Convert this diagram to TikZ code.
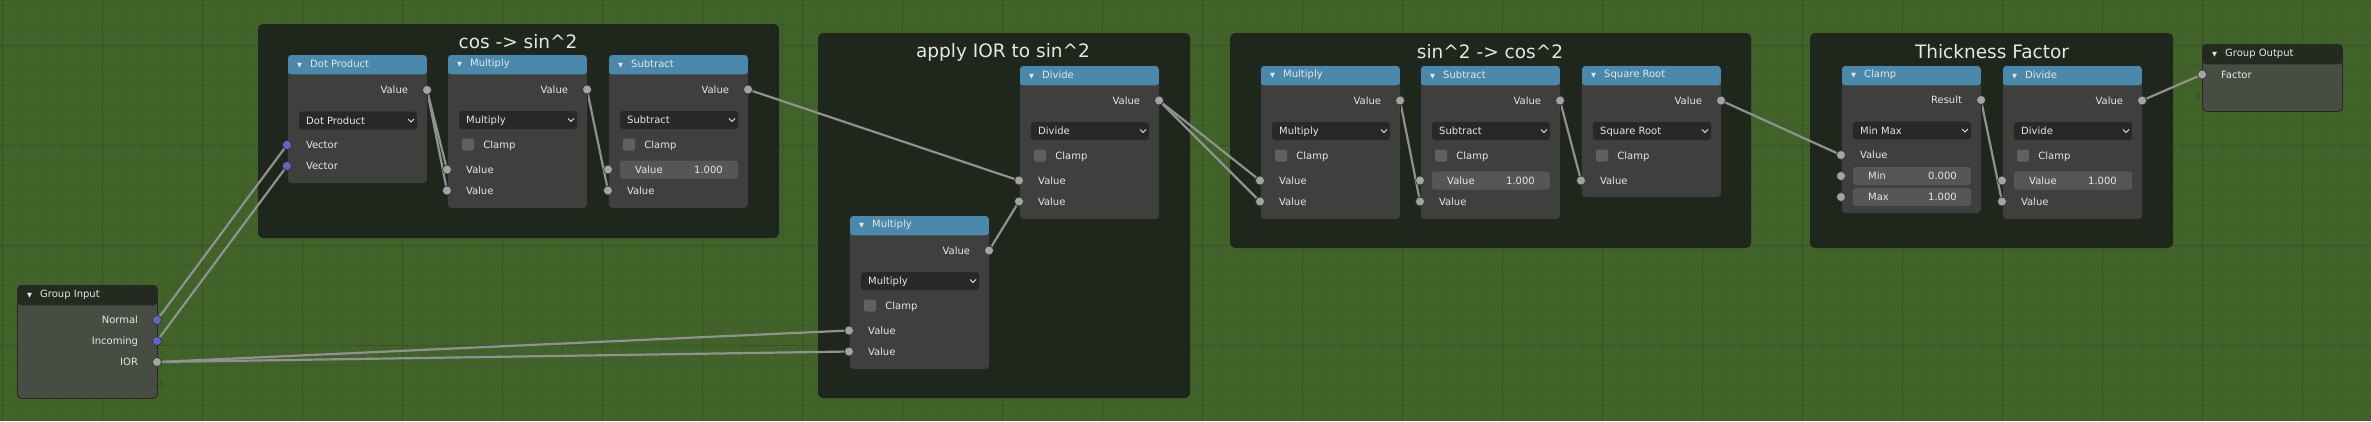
\documentclass[tikz,border=0pt]{standalone}
\usepackage{fontspec}
\setmainfont{DejaVu Sans}
\usetikzlibrary{positioning}
\definecolor{bggreen}{RGB}{65,98,41}
\definecolor{gridmin}{RGB}{60,92,37}
\definecolor{gridmaj}{RGB}{54,85,32}
\definecolor{framecol}{RGB}{31,38,27}
\definecolor{nodecol}{RGB}{63,64,61}
\definecolor{groupcol}{RGB}{72,77,68}
\definecolor{gheadcol}{RGB}{36,42,32}
\definecolor{headcol}{RGB}{74,137,171}
\definecolor{dropcol}{RGB}{40,40,40}
\definecolor{fieldcol}{RGB}{86,86,86}
\definecolor{checkcol}{RGB}{96,96,96}
\definecolor{sockcol}{RGB}{163,163,163}
\definecolor{vsockcol}{RGB}{99,99,199}
\definecolor{linkcol}{RGB}{145,145,145}
\definecolor{txtcol}{RGB}{230,230,230}
\pgfdeclarelayer{back}
\pgfdeclarelayer{links}
\pgfsetlayers{back,links,main}
\newcommand{\hdtri}{{\fontsize{6.5}{7}\selectfont ▼}\hspace{8pt}}
\tikzset{
    frame/.style = {fill=framecol, rounded corners=5pt},
    ftitle/.style = {text=txtcol, font=\fontsize{18.5}{20}\selectfont, inner sep=0},
    bnode/.style = {draw=black!85, fill=nodecol, rounded corners=4pt, line width=0.8pt,
        minimum width=140pt, inner sep=0, anchor=north west},
    hdr/.style = {path picture={\fill[#1] (path picture bounding box.north west)
        rectangle ([yshift=-20pt]path picture bounding box.north east);}},
    htitle/.style = {text=txtcol, font=\fontsize{10}{12}\selectfont, inner sep=0, anchor=west},
    lbl/.style = {text=txtcol, font=\fontsize{10}{12}\selectfont, inner sep=0,
        text height=7.3pt, text depth=0pt},
    sock/.style = {circle, fill=sockcol, draw=black!80, line width=0.6pt, inner sep=0, minimum size=9pt},
    vsock/.style = {sock, fill=vsockcol},
    esock/.style = {circle, draw=black!75, line width=0.7pt, inner sep=0, minimum size=9pt},
    drop/.style = {fill=dropcol, rounded corners=3pt, minimum width=118pt, minimum height=18pt, inner sep=0},
    field/.style = {fill=fieldcol, rounded corners=3pt, minimum width=118pt, minimum height=18pt, inner sep=0},
    check/.style = {fill=checkcol, rounded corners=2pt, minimum size=12pt, inner sep=0},
    chev/.style = {draw=txtcol, line width=0.8pt},
    link/.style = {draw=linkcol, line width=2.2pt}
}
\begin{document}
\begin{tikzpicture}[x=1pt, y=-1pt]
    \useasboundingbox (0,0) rectangle (2371,421);
    \begin{pgfonlayer}{back}
        \fill[bggreen] (0,0) rectangle (2371,421);
        \draw[gridmin, line width=0.8pt, step=20pt, shift={(2,5)}] (-2,-5) grid (2369,416);
        \draw[gridmaj, line width=1pt, step=100pt, shift={(2,45)}] (-2,-45) grid (2369,376);
        % frames
        \fill[frame] (258,24) rectangle (779,238);
        \node[ftitle] (cosT) at (518,42) {cos -> sin\textasciicircum 2};
        \fill[frame] (818,33) rectangle (1190,398);
        \node[ftitle] (iorT) at (1003,52) {apply IOR to sin\textasciicircum 2};
        \fill[frame] (1230,33) rectangle (1751,248);
        \node[ftitle] (sinT) at (1490,52) {sin\textasciicircum 2 -> cos\textasciicircum 2};
        \fill[frame] (1810,33) rectangle (2173,248);
        \node[ftitle] (thickT) at (1992,52) {Thickness Factor};
    \end{pgfonlayer}

    % group input
    \begin{scope}[shift={(17,285)}]
        \node[bnode, fill=groupcol, hdr=gheadcol, minimum height=113pt] (gin) at (0,0) {};
        \node[htitle] at (10,10) {\hdtri Group Input};
        \node[vsock] (gin-n) at (140,35) {};
        \node[lbl, left=14pt of gin-n] {Normal};
        \node[vsock] (gin-i) at (140,56) {};
        \node[lbl, left=14pt of gin-i] {Incoming};
        \node[sock] (gin-r) at (140,77) {};
        \node[lbl, left=14pt of gin-r] {IOR};
        \node[esock] (gin-e) at (140,98) {};
    \end{scope}

    % dot product
    \begin{scope}[shift={(287,54)}]
        \node[bnode, hdr=headcol, minimum height=129pt] (dot) at (0,0) {};
        \node[htitle] at (10,10) {\hdtri Dot Product};
        \node[sock] (dot-o) at (140,36) {};
        \node[lbl, left=14pt of dot-o] {Value};
        \node[drop] (dot-m) at (71,66.5) {};
        \node[lbl, anchor=west] at (19,66.5) {Dot Product};
        \draw[chev] (121,65) -- (124,68) -- (127,65);
        \node[vsock] (dot-a) at (0,91) {};
        \node[lbl, right=14pt of dot-a] {Vector};
        \node[vsock] (dot-b) at (0,112) {};
        \node[lbl, right=14pt of dot-b] {Vector};
    \end{scope}

    % math nodes
    \foreach \n/\x/\y/\t/\f in {mulA/447/54/Multiply/0, subA/608/54/Subtract/1,
            divA/1019/65/Divide/0, iorMul/849/215/Multiply/0, mulB/1260/65/Multiply/0,
            subB/1420/65/Subtract/1, divB/2002/65/Divide/1}{
        \begin{scope}[shift={(\x,\y)}]
            \node[bnode, hdr=headcol, minimum height=154pt] (\n) at (0,0) {};
            \node[htitle] at (10,10) {\hdtri\t};
            \node[sock] (\n-o) at (140,35.5) {};
            \node[lbl, left=14pt of \n-o] {Value};
            \node[drop] (\n-m) at (71,66) {};
            \node[lbl, anchor=west] at (19,66) {\t};
            \draw[chev] (121,64.5) -- (124,67.5) -- (127,64.5);
            \node[check] (\n-c) at (21,90.5) {};
            \node[lbl, right=9pt of \n-c] {Clamp};
            \ifnum\f=1
                \node[field] at (71,115.5) {};
                \node[lbl, anchor=west] at (27,115.5) {Value};
                \node[lbl, anchor=east] at (115,115.5) {1.000};
            \else
                \node[lbl, anchor=west] at (19,115.5) {Value};
            \fi
            \node[sock] (\n-a) at (0,115.5) {};
            \node[sock] (\n-b) at (0,136.5) {};
            \node[lbl, right=14pt of \n-b] {Value};
        \end{scope}
    }

    % square root
    \begin{scope}[shift={(1581,65)}]
        \node[bnode, hdr=headcol, minimum height=132pt] (sqrt) at (0,0) {};
        \node[htitle] at (10,10) {\hdtri Square Root};
        \node[sock] (sqrt-o) at (140,35.5) {};
        \node[lbl, left=14pt of sqrt-o] {Value};
        \node[drop] (sqrt-m) at (71,66) {};
        \node[lbl, anchor=west] at (19,66) {Square Root};
        \draw[chev] (121,64.5) -- (124,67.5) -- (127,64.5);
        \node[check] (sqrt-c) at (21,90.5) {};
        \node[lbl, right=9pt of sqrt-c] {Clamp};
        \node[sock] (sqrt-a) at (0,115.5) {};
        \node[lbl, right=14pt of sqrt-a] {Value};
    \end{scope}

    % clamp
    \begin{scope}[shift={(1841,65)}]
        \node[bnode, hdr=headcol, minimum height=148pt] (clamp) at (0,0) {};
        \node[htitle] at (10,10) {\hdtri Clamp};
        \node[sock] (clamp-o) at (140,35) {};
        \node[lbl, left=14pt of clamp-o] {Result};
        \node[drop] (clamp-m) at (71,65.5) {};
        \node[lbl, anchor=west] at (19,65.5) {Min Max};
        \draw[chev] (121,64) -- (124,67) -- (127,64);
        \node[sock] (clamp-a) at (0,90) {};
        \node[lbl, right=14pt of clamp-a] {Value};
        \node[field] at (71,111) {};
        \node[sock] (clamp-min) at (0,111) {};
        \node[lbl, anchor=west] at (27,111) {Min};
        \node[lbl, anchor=east] at (116,111) {0.000};
        \node[field] at (71,132) {};
        \node[sock] (clamp-max) at (0,132) {};
        \node[lbl, anchor=west] at (27,132) {Max};
        \node[lbl, anchor=east] at (116,132) {1.000};
    \end{scope}

    % group output
    \begin{scope}[shift={(2202,44)}]
        \node[bnode, fill=groupcol, hdr=gheadcol, minimum height=67pt] (gout) at (0,0) {};
        \node[htitle] at (10,10) {\hdtri Group Output};
        \node[sock] (gout-f) at (0,30.5) {};
        \node[lbl, right=14pt of gout-f] {Factor};
        \node[esock] (gout-e) at (0,52) {};
    \end{scope}

    % links
    \begin{pgfonlayer}{links}
        \draw[link] (gin-n) -- (dot-a);
        \draw[link] (gin-i) -- (dot-b);
        \draw[link] (dot-o) -- (mulA-a);
        \draw[link] (dot-o) -- (mulA-b);
        \draw[link] (mulA-o) -- (subA-b);
        \draw[link] (subA-o) -- (divA-a);
        \draw[link] (gin-r) -- (iorMul-a);
        \draw[link] (gin-r) -- (iorMul-b);
        \draw[link] (iorMul-o) -- (divA-b);
        \draw[link] (divA-o) -- (mulB-a);
        \draw[link] (divA-o) -- (mulB-b);
        \draw[link] (mulB-o) -- (subB-b);
        \draw[link] (subB-o) -- (sqrt-a);
        \draw[link] (sqrt-o) -- (clamp-a);
        \draw[link] (clamp-o) -- (divB-b);
        \draw[link] (divB-o) -- (gout-f);
    \end{pgfonlayer}
\end{tikzpicture}
\end{document}
